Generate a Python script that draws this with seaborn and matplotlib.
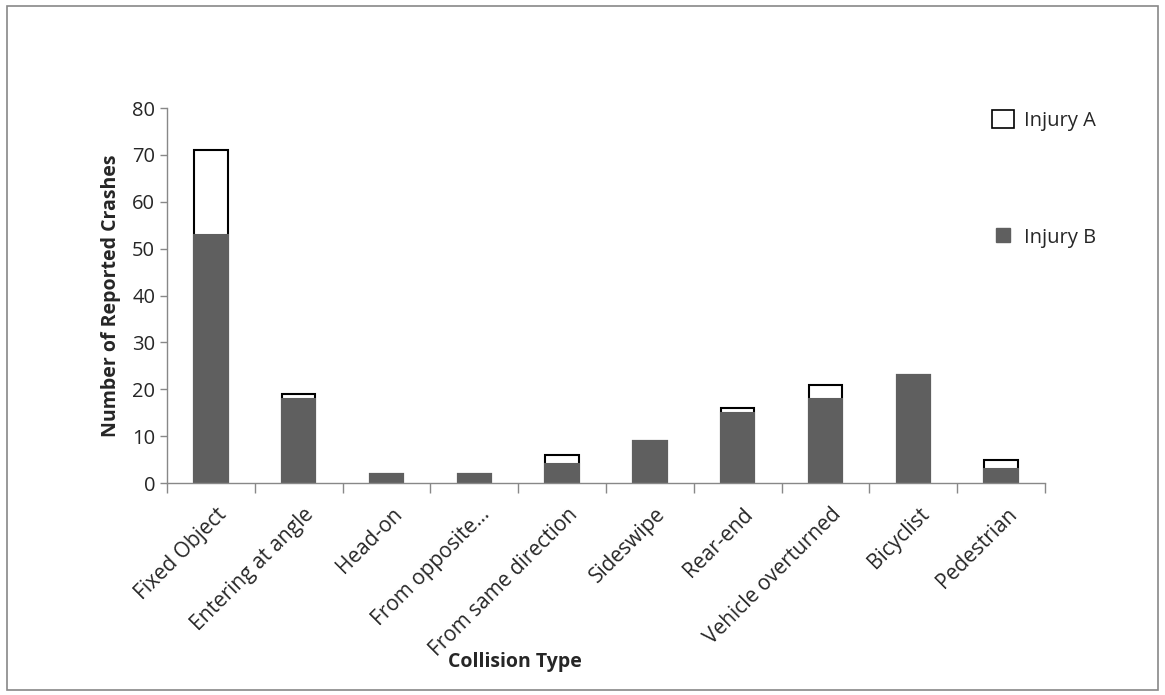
from matplotlib import pyplot as plt
from matplotlib.patches import Patch, Rectangle
from matplotlib.lines import Line2D
from matplotlib.transforms import ScaledTranslation
import pandas as pd
import seaborn as sns

categories = ['Fixed Object', 'Entering at angle', 'Head-on', 'From opposite...',
              'From same direction', 'Sideswipe', 'Rear-end', 'Vehicle overturned',
              'Bicyclist', 'Pedestrian']
injury_b = [53, 18, 2, 2, 4, 9, 15, 18, 23, 3]
injury_a = [18, 1, 0, 0, 2, 0, 1, 3, 0, 2]

data = pd.DataFrame({'Collision Type': categories, 'Injury B': injury_b, 'Injury A': injury_a})
data['Total'] = data['Injury B'] + data['Injury A']

sns.set_style('white')
plt.rcParams['font.family'] = ['Open Sans', 'DejaVu Sans']

dark = '#5f5f5f'
fig = plt.figure(figsize=(11.65, 6.95), dpi=100)
ax = fig.add_axes([0.1433, 0.305, 0.7537, 0.5396])

# totals first (white with outline), then Injury B on top
sns.barplot(x='Collision Type', y='Total', data=data, ax=ax, color='white',
            edgecolor='black', linewidth=1.5, width=0.38, saturation=1)
sns.barplot(x='Collision Type', y='Injury B', data=data, ax=ax, color=dark,
            edgecolor=dark, linewidth=1.5, width=0.38, saturation=1)

ax.set_ylim(0, 80)
ax.set_xlim(-0.5, len(categories) - 0.5)
ax.set_yticks(range(0, 81, 10))
ax.tick_params(axis='y', labelsize=14.5, length=5, width=1, color='#888888', left=True)
ax.set_xticks([i - 0.5 for i in range(len(categories) + 1)], minor=True)
ax.tick_params(axis='x', which='minor', length=7, width=1, color='#888888', bottom=True)
ax.tick_params(axis='x', which='major', length=0, labelsize=15, pad=15)
ax.set_xticks(range(len(categories)))
ax.set_xticklabels(categories, rotation=45, ha='right', rotation_mode='anchor')
shift = ScaledTranslation(5 / 100, 0, fig.dpi_scale_trans)
for lbl in ax.get_xticklabels():
    lbl.set_transform(lbl.get_transform() + shift)

for side in ['top', 'right']:
    ax.spines[side].set_visible(False)
for side in ['left', 'bottom']:
    ax.spines[side].set_color('#888888')
    ax.spines[side].set_linewidth(1)

ax.set_ylabel('Number of Reported Crashes', fontsize=14, fontweight='bold', labelpad=8)
ax.set_xlabel('')
fig.text(0.442, 0.04, 'Collision Type', fontsize=14, fontweight='bold', ha='center')

handles = [Patch(facecolor='white', edgecolor='black', linewidth=1.2),
           Line2D([], [], marker='s', linestyle='', color=dark, markersize=10)]
fig.legend(handles, ['Injury A', 'Injury B'], loc='upper left',
           bbox_to_anchor=(0.836, 0.868), frameon=False, fontsize=14.5,
           handlelength=1.1, handleheight=1.0, handletextpad=0.5, labelspacing=4.8)

fig.patches.append(Rectangle((0.006, 0.007), 0.988, 0.985, transform=fig.transFigure,
                             fill=False, edgecolor='#888888', linewidth=1.2))

plt.savefig('out.png', dpi=100)
